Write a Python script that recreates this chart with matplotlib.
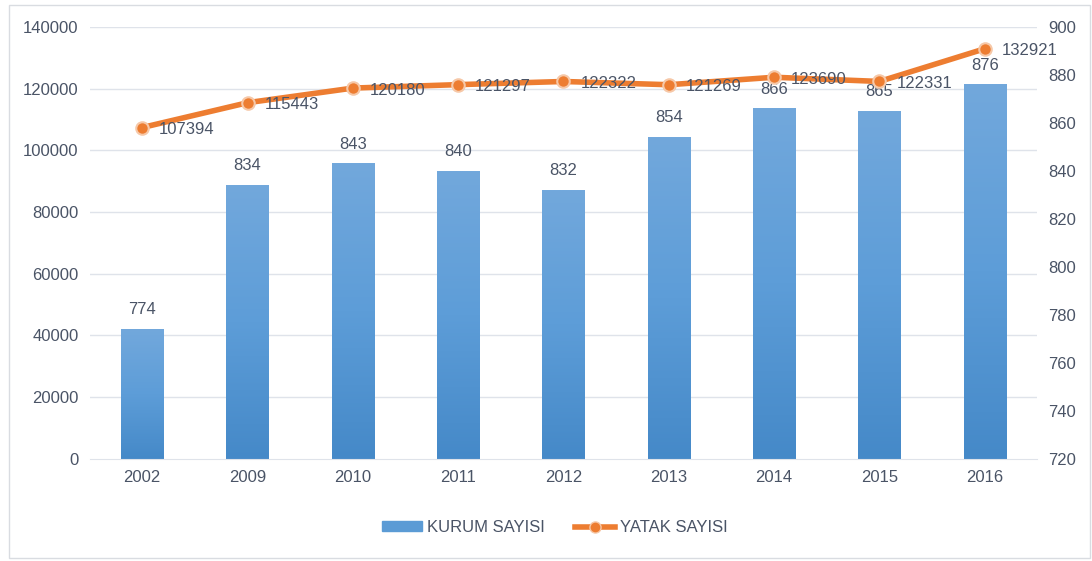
import numpy as np
import matplotlib.pyplot as plt
from matplotlib.patches import Rectangle, Patch
from matplotlib.lines import Line2D
from matplotlib.colors import LinearSegmentedColormap

plt.rcParams['font.family'] = ['Liberation Sans Narrow', 'Liberation Sans', 'DejaVu Sans']

years = ['2002', '2009', '2010', '2011', '2012', '2013', '2014', '2015', '2016']
kurum = [774, 834, 843, 840, 832, 854, 866, 865, 876]
yatak = [107394, 115443, 120180, 121297, 122322, 121269, 123690, 122331, 132921]

txt = '#4a5466'
fig = plt.figure(figsize=(10.92, 5.61), dpi=100)
ax = fig.add_axes([0.082, 0.182, 0.868, 0.770])
ax2 = ax.twinx()

x = np.arange(len(years))
left_ticks = list(range(0, 140001, 20000))
rmin, rmax = 720, 900

# gridlines follow the left axis, drawn behind the bars
for t in left_ticks[1:]:
    ax2.axhline(rmin + t * (rmax - rmin) / 140000, color='#dfe3ea', linewidth=1, zorder=0)

# bars on right axis, with a soft vertical gradient
cmap = LinearSegmentedColormap.from_list('b', ['#4589c8', '#5d9dd8', '#72a8dc'])
bars = ax2.bar(x, kurum, width=0.4, color='none', zorder=2)
grad = np.linspace(0, 1, 256).reshape(-1, 1)
for b in bars:
    bx = b.get_x()
    ax2.imshow(grad, extent=[bx, bx + b.get_width(), rmin, b.get_y() + b.get_height()],
               origin='lower', aspect='auto', cmap=cmap, zorder=2)
ax2.set_ylim(rmin, rmax)
ax2.set_yticks(range(rmin, rmax + 1, 20))
for i, v in enumerate(kurum):
    ax2.text(i, v + 5, str(v), ha='center', va='bottom', fontsize=12, color=txt)

# line on left axis
ax.set_zorder(ax2.get_zorder() + 1)
ax.patch.set_visible(False)
ax.plot(x, yatak, color='#ed7d31', linewidth=4, marker='o', markersize=9,
        markeredgecolor='#f6c8a8', markeredgewidth=1.5, zorder=3)
for i, v in enumerate(yatak):
    ax.text(i + 0.16, v - 700, str(v), ha='left', va='center', fontsize=12, color=txt)
ax.set_ylim(0, 140000)
ax.set_yticks(left_ticks)
ax.set_xticks(x)
ax.set_xticklabels(years)
ax.set_xlim(-0.5, len(years) - 0.5)
ax2.set_xlim(-0.5, len(years) - 0.5)

for a in (ax, ax2):
    for s in a.spines.values():
        s.set_visible(False)
    a.tick_params(length=0, labelsize=12, colors=txt, pad=8)
ax.spines['bottom'].set_visible(True)
ax.spines['bottom'].set_color('#dfe3ea')

# legend
handles = [Patch(color='#5b9bd5', label='KURUM SAYISI'),
           Line2D([0], [0], color='#ed7d31', linewidth=4, marker='o', markersize=8,
                  markeredgecolor='#f6c8a8', label='YATAK SAYISI')]
fig.legend(handles=handles, loc='center', bbox_to_anchor=(0.508, 0.06), ncol=2,
           frameon=False, fontsize=12, labelcolor=txt, handlelength=2.4,
           handleheight=0.5, handletextpad=0.3, columnspacing=1.8)

fig.add_artist(Rectangle((0.008, 0.006), 0.99, 0.985, transform=fig.transFigure,
                         fill=False, edgecolor='#d9dce1', linewidth=1))

fig.savefig('out.png', dpi=100)
